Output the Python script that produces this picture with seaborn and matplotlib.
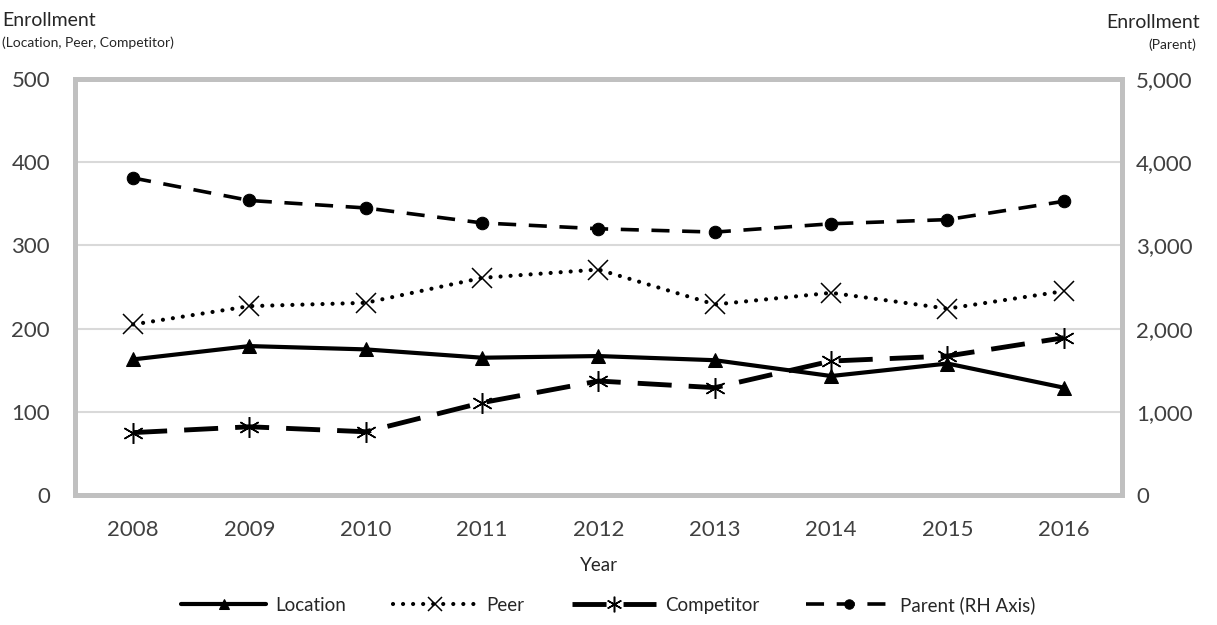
import numpy as np
import matplotlib
matplotlib.use("Agg")
import matplotlib.pyplot as plt
import seaborn as sns
from matplotlib.ticker import FuncFormatter

years = ["2008", "2009", "2010", "2011", "2012", "2013", "2014", "2015", "2016"]
location = [163, 179, 175, 165, 167, 162, 143, 158, 129]
peer = [205, 227, 231, 261, 271, 229, 243, 224, 245]
competitor = [75, 82, 76, 111, 137, 129, 161, 167, 189]
parent = [3810, 3540, 3450, 3270, 3200, 3160, 3260, 3310, 3530]

sns.set_style("white")
plt.rcParams['font.family'] = ['Lato', 'DejaVu Sans']

fig = plt.figure(figsize=(12.17, 6.25), dpi=100)
ax = fig.add_axes([75/1217, 130/625, 1047/1217, 416/625])
ax2 = ax.twinx()

x = np.arange(len(years))
sns.lineplot(x=x, y=location, ax=ax, color="black", lw=3, marker="^", ms=10,
             mec="black", label="Location")
sns.lineplot(x=x, y=peer, ax=ax, color="black", lw=3, linestyle=(0, (0.01, 2.4)),
             dash_capstyle="round", marker="x", ms=14, mew=1.1, mec="black", label="Peer")
sns.lineplot(x=x, y=competitor, ax=ax, color="black", lw=3.5, linestyle=(0, (7, 3.5)),
             marker=(6, 2, 0), ms=15, mew=1.1, mec="black", label="Competitor")
sns.lineplot(x=x, y=parent, ax=ax2, color="black", lw=2.6, linestyle=(0, (5, 3.5)),
             marker="o", ms=9, mec="black", label="Parent (RH Axis)")

ax.set_xlim(-0.5, len(years) - 0.5)
ax.set_ylim(0, 500)
ax2.set_ylim(0, 5000)
ax.set_yticks(range(0, 501, 100))
ax2.set_yticks(range(0, 5001, 1000))
ax2.yaxis.set_major_formatter(FuncFormatter(lambda v, p: f"{int(v):,}"))
ax.set_xticks(x)
ax.set_xticklabels(years)

ax.grid(axis="y", color="#d9d9d9", lw=1.5)
ax.set_axisbelow(True)
for a in (ax, ax2):
    for s in a.spines.values():
        s.set_color("#c0c0c0")
        s.set_linewidth(3.5)
    a.tick_params(length=0, labelsize=16, labelcolor="#404040")
ax.tick_params(axis="y", pad=18)
ax.tick_params(axis="x", pad=18)
ax2.tick_params(axis="y", pad=10)

ax.set_xlabel("Year", fontsize=13.5, labelpad=12)
ax.set_ylabel("")
ax2.set_ylabel("")

fig.text(2/1217, 1 - 20/625, "Enrollment", fontsize=14, va="center", ha="left")
fig.text(2/1217, 1 - 43/625, "(Location, Peer, Competitor)", fontsize=10, va="center", ha="left")
fig.text(1200/1217, 1 - 22/625, "Enrollment", fontsize=14, va="center", ha="right")
fig.text(1196/1217, 1 - 45/625, "(Parent)", fontsize=10, va="center", ha="right")

h1, l1 = ax.get_legend_handles_labels()
h2, l2 = ax2.get_legend_handles_labels()
ax.get_legend().remove()
ax2.get_legend().remove()
fig.legend(h1 + h2, l1 + l2, loc="center", bbox_to_anchor=(0.5, 1 - 605/625), ncol=4,
           frameon=False, fontsize=13.5, handlelength=4.5, columnspacing=2.5,
           handletextpad=0.5, markerscale=0.75)

fig.savefig("out.png", dpi=100)
